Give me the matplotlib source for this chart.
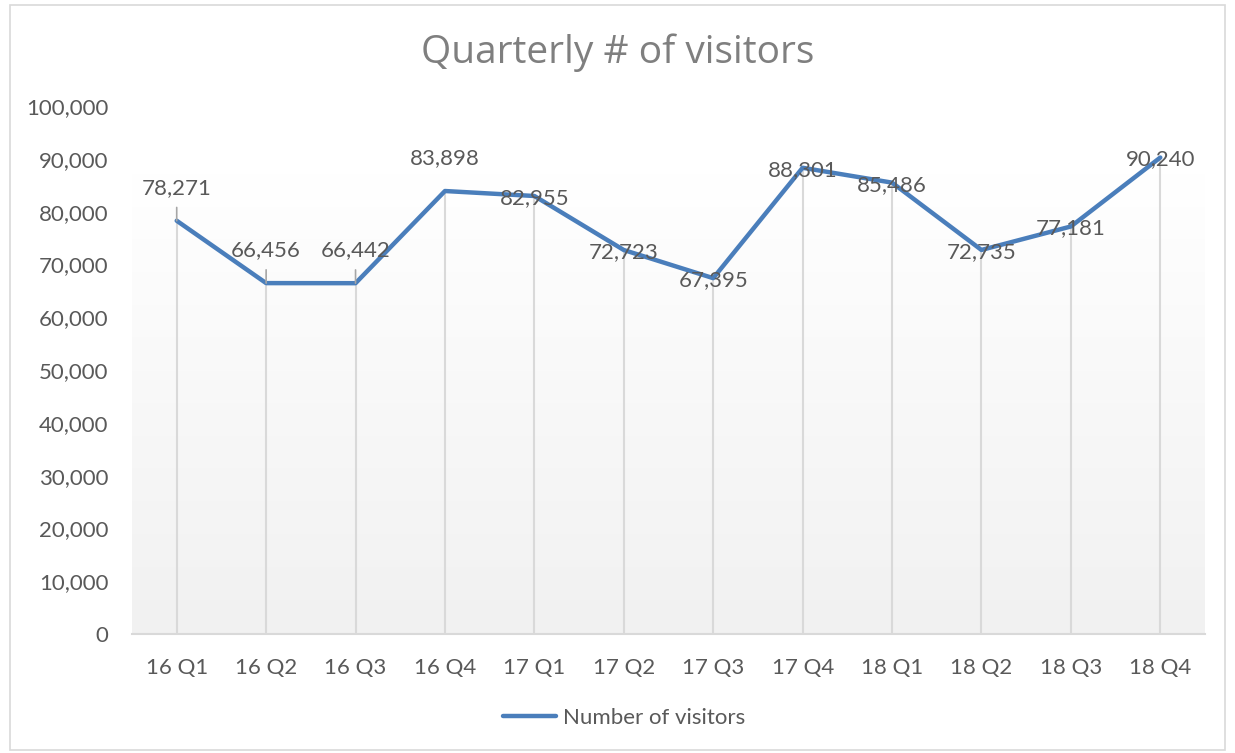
import matplotlib.pyplot as plt
import numpy as np

quarters = ["16 Q1", "16 Q2", "16 Q3", "16 Q4", "17 Q1", "17 Q2",
            "17 Q3", "17 Q4", "18 Q1", "18 Q2", "18 Q3", "18 Q4"]
visitors = [78271, 66456, 66442, 83898, 82955, 72723,
            67395, 88301, 85486, 72735, 77181, 90240]
yticks = [0, 10000, 20000, 30000, 40000, 50000, 60000, 70000, 80000, 90000, 100000]

# labels that were moved above the point in the original (with leader lines)
moved_up = [True, True, True, True] + [False] * 8
has_leader = [True, True, True, False] + [False] * 8

W, H = 1235, 753
fig = plt.figure(figsize=(W / 100, H / 100), dpi=100)
plt.rcParams['font.family'] = ['Lato', 'DejaVu Sans']

# outer chart border
fig.patches.append(plt.Rectangle((10 / W, 3 / H), 1215 / W, 745 / H, transform=fig.transFigure,
                                 fill=False, edgecolor="#d9d9d9", linewidth=1.2))

ax = fig.add_axes([132 / W, (H - 634) / H, (1205 - 132) / W, (634 - 106) / H])
x = np.arange(len(quarters))

# gradient fill of plot area: white at top -> light grey at bottom
t = np.linspace(0.0, 1.0, 256).reshape(-1, 1)
top = np.array([1.0, 1.0, 1.0])
bot = np.array([0.945, 0.945, 0.945])
grad = top + (bot - top) * t[..., None]
grad = np.repeat(grad, 2, axis=1)
ax.imshow(grad, extent=(-0.5, 11.5, 0, 87300), aspect="auto", origin="upper", zorder=0)

ax.vlines(x, 0, visitors, color="#d9d9d9", linewidth=1.5, zorder=1)
ax.plot(x, visitors, color="#4a7ebb", linewidth=3.2, solid_capstyle="round",
        label="Number of visitors", zorder=3)

for xi, v, up, lead in zip(x, visitors, moved_up, has_leader):
    dy = 33 if up else -2
    arrow = dict(arrowstyle="-", color="#a6a6a6", lw=1.2, shrinkA=5, shrinkB=0) if lead else None
    ax.annotate(f"{v:,}", (xi, v), xytext=(0, dy), textcoords="offset pixels",
                ha="center", va="center", fontsize=16, color="#595959", zorder=4,
                arrowprops=arrow)

ax.set_xlim(-0.5, 11.5)
ax.set_ylim(0, 100000)
ax.set_xticks(x)
ax.set_xticklabels(quarters)
ax.set_yticks(yticks)
ax.set_yticklabels([f"{t:,}" for t in yticks])
ax.tick_params(length=0, labelsize=16, colors="#595959")
ax.tick_params(axis="x", pad=17)
ax.tick_params(axis="y", pad=17)
for s in ["top", "right", "left"]:
    ax.spines[s].set_visible(False)
ax.spines["bottom"].set_color("#d9d9d9")
ax.spines["bottom"].set_linewidth(1.5)
ax.set_facecolor("white")

fig.text(0.5, (H - 53) / H, "Quarterly # of visitors", ha="center", va="center",
         fontsize=28, color="#7f7f7f", family=["Open Sans", "DejaVu Sans"])

fig.legend(loc="center", bbox_to_anchor=(0.505, (H - 718) / H), frameon=False,
           fontsize=16, labelcolor="#595959", handlelength=2.4, handletextpad=0.3)

fig.savefig("out.png", dpi=100)
